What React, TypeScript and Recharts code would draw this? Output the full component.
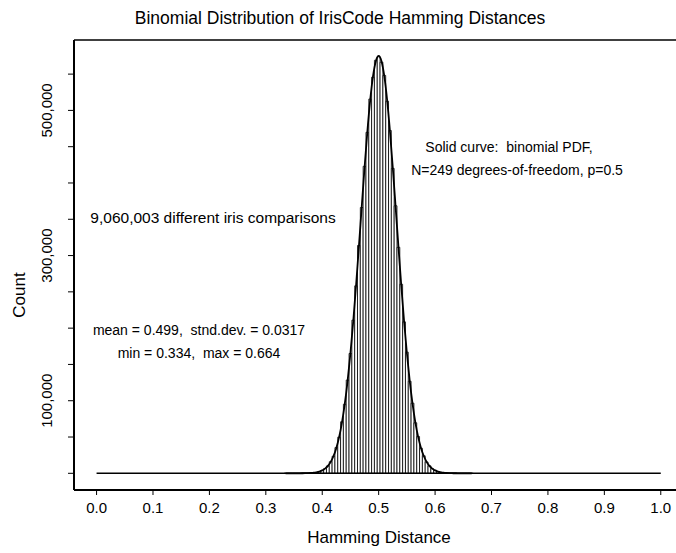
import React from 'react';
import {
  ComposedChart,
  Bar,
  Line,
  XAxis,
  YAxis,
  ReferenceLine,
} from 'recharts';

// bin centres (Hamming distance), width 0.005
const binCenters = [
  0.335, 0.34, 0.345, 0.35, 0.355, 0.36, 0.365, 0.37, 0.375, 0.38,
  0.385, 0.39, 0.395, 0.4, 0.405, 0.41, 0.415, 0.42, 0.425, 0.43,
  0.435, 0.44, 0.445, 0.45, 0.455, 0.46, 0.465, 0.47, 0.475, 0.48,
  0.485, 0.49, 0.495, 0.5, 0.505, 0.51, 0.515, 0.52, 0.525, 0.53,
  0.535, 0.54, 0.545, 0.55, 0.555, 0.56, 0.565, 0.57, 0.575, 0.58,
  0.585, 0.59, 0.595, 0.6, 0.605, 0.61, 0.615, 0.62, 0.625, 0.63,
  0.635, 0.64, 0.645, 0.65, 0.655, 0.66, 0.665,
];

// observed histogram counts
const counts = [
  2, 1, 4, 9, 14, 31, 70, 124, 251, 430,
  820, 1380, 2450, 3950, 6600, 10100, 16000, 23500, 35400, 49800,
  71000, 95200, 128500, 165100, 211000, 258300, 313900, 366200, 423000, 469800,
  515600, 545800, 569100, 573900, 566400, 548200, 512700, 472300, 420100, 368600,
  311400, 260500, 208700, 166900, 126800, 96600, 69600, 50700, 34600, 24100,
  15600, 10300, 6400, 4050, 2380, 1420, 790, 450, 235, 128,
  66, 30, 16, 6, 3, 1, 1,
];

// solid curve: binomial PDF (N=249, p=0.5), scaled to counts
const binomialPdf = [
  1, 1, 3, 7, 15, 33, 65, 130, 240, 440,
  800, 1400, 2400, 4000, 6500, 10200, 15800, 23800, 35000, 50200,
  70300, 95900, 127600, 165800, 209900, 259400, 312600, 367400, 421400, 471200,
  514100, 547100, 567800, 575000, 567800, 547100, 514100, 471200, 421400, 367400,
  312600, 259400, 209900, 165800, 127600, 95900, 70300, 50200, 35000, 23800,
  15800, 10200, 6500, 4000, 2400, 1400, 800, 440, 240, 130,
  65, 33, 15, 7, 3, 1, 1,
];

const xTicks = [0, 0.1, 0.2, 0.3, 0.4, 0.5, 0.6, 0.7, 0.8, 0.9, 1.0];
const yTicks = [0, 50000, 100000, 150000, 200000, 250000, 300000, 350000, 400000, 450000, 500000, 550000];
const yLabeled = [100000, 300000, 500000];

const data = binCenters.map((x, i) => ({ x, count: counts[i], pdf: binomialPdf[i] }));

const FONT = '"Liberation Sans", Arial, Helvetica, sans-serif';
const Y_MIN = -23000;
const Y_MAX = 597000;

const YTick = (props: any) => {
  const { y, payload } = props;
  if (!yLabeled.includes(payload.value)) return null;
  return (
    <text
      x={47}
      y={y}
      transform={`rotate(-90, 47, ${y})`}
      textAnchor="middle"
      dominantBaseline="central"
      fontSize={15}
      fontFamily={FONT}
      fill="#000"
    >
      {payload.value.toLocaleString('en-US')}
    </text>
  );
};

const note: React.CSSProperties = {
  position: 'absolute',
  fontFamily: FONT,
  fontSize: 14,
  color: '#000',
  whiteSpace: 'nowrap',
  lineHeight: '16px',
};

export default function App() {
  return (
    <div style={{ position: 'absolute', left: 0, top: 0, width: 676, height: 553, background: '#fff' }}>
      <div style={{ ...note, fontSize: 17.5, left: 0, width: 680, top: 8, textAlign: 'center', lineHeight: '20px' }}>
        Binomial Distribution of IrisCode Hamming Distances
      </div>
      <ComposedChart
        width={676}
        height={553}
        data={data}
        margin={{ top: 40, right: 0, bottom: 33, left: 14 }}
      >
        <XAxis
          type="number"
          dataKey="x"
          domain={[-0.04, 1.027]}
          ticks={xTicks}
          allowDataOverflow
          tickFormatter={(v: number) => v.toFixed(1)}
          height={30}
          tickSize={5}
          tickMargin={7}
          axisLine={{ stroke: '#000', strokeWidth: 2 }}
          tickLine={{ stroke: '#000', strokeWidth: 1 }}
          tick={{ fill: '#000', fontSize: 15, fontFamily: FONT }}
        />
        <YAxis
          type="number"
          domain={[Y_MIN, Y_MAX]}
          ticks={yTicks}
          allowDataOverflow
          width={60}
          tickSize={6}
          axisLine={{ stroke: '#000', strokeWidth: 2 }}
          tickLine={{ stroke: '#000', strokeWidth: 1 }}
          tick={<YTick />}
        />
        <ReferenceLine y={Y_MAX} stroke="#000" strokeWidth={1.5} />
        <ReferenceLine
          segment={[{ x: 0, y: 0 }, { x: 1, y: 0 }]}
          stroke="#000"
          strokeWidth={1.5}
        />
        <Bar
          dataKey="count"
          barSize={2.8}
          fill="#fff"
          stroke="#000"
          strokeWidth={0.8}
          isAnimationActive={false}
        />
        <Line
          type="monotone"
          dataKey="pdf"
          stroke="#000"
          strokeWidth={1.8}
          dot={false}
          isAnimationActive={false}
        />
      </ComposedChart>
      <div
        style={{
          ...note,
          fontSize: 17,
          left: 20,
          top: 295,
          transform: 'translate(-50%, -50%) rotate(-90deg)',
        }}
      >
        Count
      </div>
      <div style={{ ...note, fontSize: 17, left: 379, top: 538, transform: 'translate(-50%, -50%)' }}>
        Hamming Distance
      </div>
      <div style={{ ...note, left: 509, top: 147, transform: 'translate(-50%, -50%)' }}>
        Solid curve:&nbsp; binomial PDF,
      </div>
      <div style={{ ...note, left: 517, top: 170, transform: 'translate(-50%, -50%)' }}>
        N=249 degrees-of-freedom, p=0.5
      </div>
      <div style={{ ...note, fontSize: 15.5, left: 213, top: 218, transform: 'translate(-50%, -50%)' }}>
        9,060,003 different iris comparisons
      </div>
      <div style={{ ...note, left: 199, top: 330, transform: 'translate(-50%, -50%)' }}>
        mean = 0.499,&nbsp; stnd.dev. = 0.0317
      </div>
      <div style={{ ...note, left: 199, top: 353, transform: 'translate(-50%, -50%)' }}>
        min = 0.334,&nbsp; max = 0.664
      </div>
    </div>
  );
}
